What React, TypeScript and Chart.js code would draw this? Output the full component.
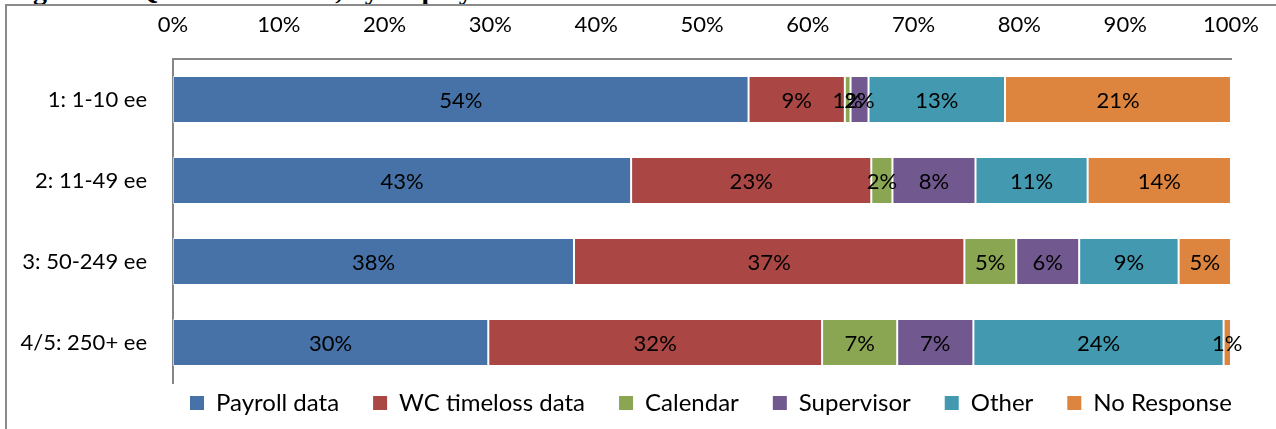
import React, { useEffect, useRef } from "react";
import { Chart, registerables } from "chart.js";

Chart.register(...registerables);

const titleText = "Figure 11: Q12 Data source, by employer size";

const categories = ["1: 1-10 ee", "2: 11-49 ee", "3: 50-249 ee", "4/5: 250+ ee"];
const seriesNames = ["Payroll data", "WC timeloss data", "Calendar", "Supervisor", "Other", "No Response"];
const payrollData = [54.4, 43.3, 37.9, 29.8];
const wcTimelossData = [9.1, 22.7, 36.9, 31.55];
const calendarData = [0.54, 2.0, 4.9, 7.1];
const supervisorData = [1.7, 7.85, 5.95, 7.2];
const otherData = [12.9, 10.6, 9.4, 23.65];
const noResponseData = [21.36, 13.55, 4.95, 0.7];
const seriesColors = ["#4672A7", "#AA4644", "#8BA653", "#71598F", "#4299B0", "#DD843E"];
const xTickValues = [0, 10, 20, 30, 40, 50, 60, 70, 80, 90, 100];

const FONT = "Lato, 'Open Sans', sans-serif";
const FS = 22;
const LEGEND_FS = 24;
const LEGEND_GAP = 34;
const LEGEND_START = 190;

const segLabels = {
  id: "segLabels",
  afterDatasetsDraw(chart: any) {
    const ctx = chart.ctx;
    ctx.save();
    ctx.font = `${FS}px ${FONT}`;
    ctx.fillStyle = "#000";
    ctx.textAlign = "center";
    ctx.textBaseline = "middle";
    chart.data.datasets.forEach((ds: any, i: number) => {
      const meta = chart.getDatasetMeta(i);
      meta.data.forEach((el: any, j: number) => {
        const v = ds.data[j];
        const p = el.getCenterPoint();
        ctx.fillText(Math.round(v) + "%", p.x, p.y + 1);
      });
    });
    ctx.restore();
  },
};

const legendPlace = {
  id: "legendPlace",
  afterLayout(chart: any) {
    const lg = chart.legend;
    if (!lg) return;
    const w = lg.right - lg.left;
    lg.left = LEGEND_START - LEGEND_GAP;
    lg.right = lg.left + w;
  },
};

export default function App() {
  const ref = useRef<HTMLCanvasElement | null>(null);
  useEffect(() => {
    if (!ref.current) return;
    const values = [payrollData, wcTimelossData, calendarData, supervisorData, otherData, noResponseData];
    const chart = new Chart(ref.current, {
      type: "bar",
      data: {
        labels: categories,
        datasets: seriesNames.map((name, i) => ({
          label: name,
          data: values[i],
          backgroundColor: seriesColors[i],
          borderColor: "rgba(255,255,255,0.55)",
          borderWidth: 1,
          borderSkipped: false,
          barPercentage: 0.58,
          categoryPercentage: 1,
        })),
      },
      options: {
        indexAxis: "y",
        responsive: false,
        animation: false,
        layout: { padding: { left: 0, right: 45, top: 0, bottom: 4 } },
        scales: {
          x: {
            position: "top",
            stacked: true,
            min: 0,
            max: 100,
            afterFit: (s: any) => {
              s.height = 59;
              s.paddingLeft = 0;
              s.paddingRight = 0;
            },
            afterBuildTicks: (s: any) => {
              s.ticks = xTickValues.map((v) => ({ value: v }));
            },
            grid: { display: false, drawTicks: false },
            border: { display: true, color: "#868686", width: 2 },
            ticks: {
              color: "#000",
              padding: 21,
              maxRotation: 0,
              font: { family: FONT, size: FS },
              callback: (v: any) => v + "%",
            },
          },
          y: {
            stacked: true,
            afterFit: (s: any) => {
              s.width = 173;
            },
            grid: { display: false, drawTicks: false },
            border: { display: true, color: "#868686", width: 2 },
            ticks: {
              color: "#000",
              padding: 26,
              font: { family: FONT, size: FS },
            },
          },
        },
        plugins: {
          tooltip: { enabled: false },
          legend: {
            position: "bottom",
            align: "start",
            fullSize: true,
            title: {
              display: true,
              text: "",
              font: { size: 1, lineHeight: 1 },
              padding: { top: 0, bottom: 8 - LEGEND_GAP - 1 },
            },
            labels: {
              boxWidth: 14,
              boxHeight: 14,
              padding: LEGEND_GAP,
              color: "#000",
              font: { family: FONT, size: LEGEND_FS },
              generateLabels: (c: any) =>
                Chart.defaults.plugins.legend.labels.generateLabels(c).map((l: any) => ({
                  ...l,
                  lineWidth: 0,
                  strokeStyle: l.fillStyle,
                })),
            },
          },
        },
      },
      plugins: [segLabels, legendPlace],
    });
    return () => chart.destroy();
  }, []);

  return (
    <div
      style={{
        position: "absolute",
        left: 0,
        top: 0,
        width: 1276,
        height: 429,
        background: "#fff",
        overflow: "hidden",
      }}
    >
      <div
        style={{
          position: "absolute",
          left: 8,
          top: -24,
          fontFamily: "'Liberation Serif', 'Times New Roman', serif",
          fontWeight: "bold",
          fontSize: 28,
          lineHeight: "28px",
          whiteSpace: "nowrap",
          color: "#000",
        }}
      >
        {titleText}
      </div>
      <div
        style={{
          position: "absolute",
          left: 5,
          top: 4,
          width: 1300,
          height: 450,
          borderTop: "2px solid #8a8a8a",
          borderLeft: "2px solid #8a8a8a",
          boxSizing: "border-box",
        }}
      />
      <canvas ref={ref} width={1276} height={429} style={{ position: "absolute", left: 0, top: 0, width: 1276, height: 429 }} />
    </div>
  );
}
